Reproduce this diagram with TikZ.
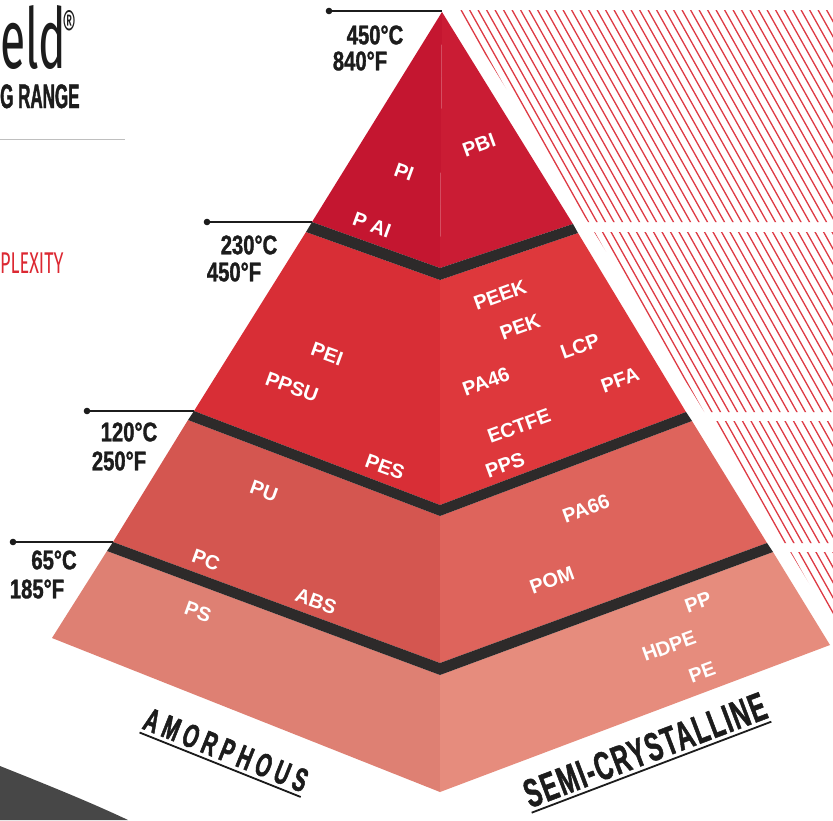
\documentclass[tikz,border=0pt]{standalone}
\usepackage{fontspec}
\setmainfont{Liberation Sans}
\newfontfamily\labfont{Liberation Sans}
\newfontfamily\tempfont[FakeStretch=0.75,FakeBold=1.2]{Liberation Sans}
\newfontfamily\headA[FakeStretch=0.6,LetterSpace=16,FakeBold=1.5]{Liberation Sans}
\newfontfamily\headB[FakeStretch=0.6,LetterSpace=4,FakeBold=1.2]{Liberation Sans}
\newfontfamily\rangefont[FakeStretch=0.5,FakeBold=1.2]{Liberation Sans}
\newfontfamily\thinfont[FakeStretch=0.55]{Fira Sans}
\newfontfamily\thinred[FakeStretch=0.6]{Fira Sans}
\definecolor{tAl}{RGB}{196,22,48}
\definecolor{tAr}{RGB}{202,28,52}
\definecolor{tBl}{RGB}{216,46,54}
\definecolor{tBr}{RGB}{222,56,60}
\definecolor{tCl}{RGB}{212,86,80}
\definecolor{tCr}{RGB}{222,100,92}
\definecolor{tDl}{RGB}{222,128,115}
\definecolor{tDr}{RGB}{230,140,125}
\definecolor{bandc}{RGB}{45,42,42}
\definecolor{hatchred}{RGB}{222,58,68}
\definecolor{brandred}{RGB}{220,40,50}
\definecolor{ink}{RGB}{28,28,28}
\begin{document}
\begin{tikzpicture}[x=1pt,y=-1pt,
  lbl/.style={text=white,font=\labfont\bfseries\fontsize{20}{20}\selectfont,inner sep=1pt},
  tmp/.style={text=ink,font=\tempfont\bfseries\fontsize{27}{27}\selectfont,inner sep=0pt},
  leader/.style={draw=ink,line width=2pt},
  dotc/.style={fill=ink},
  hatch/.style={draw=hatchred,line width=1.3pt},
  bandfill/.style={fill=bandc},
  heading/.style={text=ink,inner xsep=0pt,inner ysep=4pt}]
\useasboundingbox (0,0) rectangle (833,820);
\fill[white] (0,0) rectangle (833,820);

% corner coordinates
\coordinate (apex) at (442,12);
\coordinate (L1) at (312,222); \coordinate (C1) at (440,268); \coordinate (R1) at (573,224);
\coordinate (L1b) at (306,232); \coordinate (C1b) at (440,280); \coordinate (R1b) at (578,233);
\coordinate (L2) at (194,411); \coordinate (C2) at (440,505); \coordinate (R2) at (686,412);
\coordinate (L2b) at (188,420); \coordinate (C2b) at (440,516); \coordinate (R2b) at (692,421);
\coordinate (L3) at (113,542); \coordinate (C3) at (440,663); \coordinate (R3) at (767,543);
\coordinate (L3b) at (107,551); \coordinate (C3b) at (440,675); \coordinate (R3b) at (773,552);
\coordinate (L4) at (52,638); \coordinate (C4) at (440,792); \coordinate (R4) at (830,645);

% hatching
\begin{scope}
\clip (458,10) -- (833,10) -- (833,222) -- (588,222) -- cycle
      (594.1,232) -- (833,232) -- (833,412) -- (704.4,412) -- cycle
      (710,421) -- (833,421) -- (833,543) -- (784.7,543) -- cycle
      (790.2,552) -- (833,552) -- (833,623) -- cycle;
\foreach \i in {0,...,90} \draw[hatch] ({90+8.5*\i},0) -- ++(370,660);
\end{scope}

% tiers
\fill[tAl] (apex) -- (L1) -- (C1) -- cycle;
\fill[tAr] (apex) -- (C1) -- (R1) -- cycle;
\fill[tBl] (L1b) -- (C1b) -- (C2) -- (L2) -- cycle;
\fill[tBr] (C1b) -- (R1b) -- (R2) -- (C2) -- cycle;
\fill[tCl] (L2b) -- (C2b) -- (C3) -- (L3) -- cycle;
\fill[tCr] (C2b) -- (R2b) -- (R3) -- (C3) -- cycle;
\fill[tDl] (L3b) -- (C3b) -- (C4) -- (L4) -- cycle;
\fill[tDr] (C3b) -- (R3b) -- (R4) -- (C4) -- cycle;
% dark bands
\fill[bandfill] (L1) -- (C1) -- (R1) -- (R1b) -- (C1b) -- (L1b) -- cycle;
\fill[bandfill] (L2) -- (C2) -- (R2) -- (R2b) -- (C2b) -- (L2b) -- cycle;
\fill[bandfill] (L3) -- (C3) -- (R3) -- (R3b) -- (C3b) -- (L3b) -- cycle;

% leaders
\coordinate (d1) at (329,11);
\coordinate (d2) at (207,222);
\coordinate (d3) at (87,411);
\coordinate (d4) at (13,542);
\draw[leader] (d1) -- (apex |- d1);
\draw[leader] (d2) -- (L1);
\draw[leader] (d3) -- (L2);
\draw[leader] (d4) -- (L3);
\foreach \d in {d1,d2,d3,d4} \fill[dotc] (\d) circle (3.3);

% temperatures
\node[tmp] (c450) at (375,35) {450°C};
\node[tmp] (f840) at (360,61) {840°F};
\node[tmp] (c230) at (249,245) {230°C};
\node[tmp] (f450) at (234,272) {450°F};
\node[tmp] (c120) at (129,432) {120°C};
\node[tmp] (f250) at (119,461) {250°F};
\node[tmp] (c65) at (54,560) {65°C};
\node[tmp] (f185) at (37,589) {185°F};

% tier 1 labels
\node[lbl,rotate=20] (pbi) at (479,145) {PBI};
\node[lbl,rotate=-20] (pi) at (404,172) {PI};
\node[lbl,rotate=-20] (pai) at (372,225) {P AI};
% tier 2 labels
\node[lbl,rotate=20] (peek) at (500,295) {PEEK};
\node[lbl,rotate=20] (pek) at (520,327) {PEK};
\node[lbl,rotate=20] (lcp) at (580,346) {LCP};
\node[lbl,rotate=20] (pa46) at (486,382) {PA46};
\node[lbl,rotate=20] (pfa) at (620,380) {PFA};
\node[lbl,rotate=20] (ectfe) at (519,426) {ECTFE};
\node[lbl,rotate=20] (pps) at (505,465) {PPS};
\node[lbl,rotate=-20] (pei) at (327,354) {PEI};
\node[lbl,rotate=-20] (ppsu) at (292,387) {PPSU};
\node[lbl,rotate=-20] (pes) at (385,467) {PES};
% tier 3 labels
\node[lbl,rotate=-20] (pu) at (264,491) {PU};
\node[lbl,rotate=-20] (pc) at (206,560) {PC};
\node[lbl,rotate=-20] (abs) at (316,601) {ABS};
\node[lbl,rotate=20] (pa66) at (586,509) {PA66};
\node[lbl,rotate=20] (pom) at (552,580) {POM};
% tier 4 labels
\node[lbl,rotate=-20] (ps) at (198,612) {PS};
\node[lbl,rotate=20] (pp) at (698,602) {PP};
\node[lbl,rotate=20] (hdpe) at (669,646) {HDPE};
\node[lbl,rotate=20] (pe) at (702,672) {PE};

% base headings
\node[heading,rotate=-21.8] (amor) at (226,750)
  {\headA\bfseries\fontsize{33}{33}\selectfont AMORPHOUS};
\draw[ink,line width=1.8pt] (amor.south west) -- (amor.south east);
\node[heading,rotate=20.8] (semi) at (645,750)
  {\headB\bfseries\fontsize{40}{40}\selectfont SEMI-CRYSTALLINE};
\draw[ink,line width=1.8pt] (semi.south west) -- (semi.south east);

% top-left brand text
\node[anchor=base west,inner sep=0pt,text=ink] (brand) at (0,68)
  {\thinfont\fontsize{84}{84}\selectfont eld};
\node[anchor=north west,inner sep=0pt,text=ink] (reg) at (62,10)
  {\thinfont\fontsize{40}{40}\selectfont ®};
\node[anchor=base west,inner sep=0pt,text=ink] (range) at (0,108)
  {\rangefont\bfseries\fontsize{34}{34}\selectfont G RANGE};
\coordinate (rl1) at (0,139);
\coordinate (rl2) at (125,139);
\draw[black!25,line width=0.8pt] (rl1) -- (rl2);
\node[anchor=base west,inner sep=0pt,text=brandred] (plex) at (0,273)
  {\thinred\fontsize{30}{30}\selectfont PLEXITY};

% dark object at bottom-left
\fill[black!72] (0,766) .. controls (45,784) and (90,802) .. (128,820) -- (0,820) -- cycle;
\end{tikzpicture}
\end{document}
